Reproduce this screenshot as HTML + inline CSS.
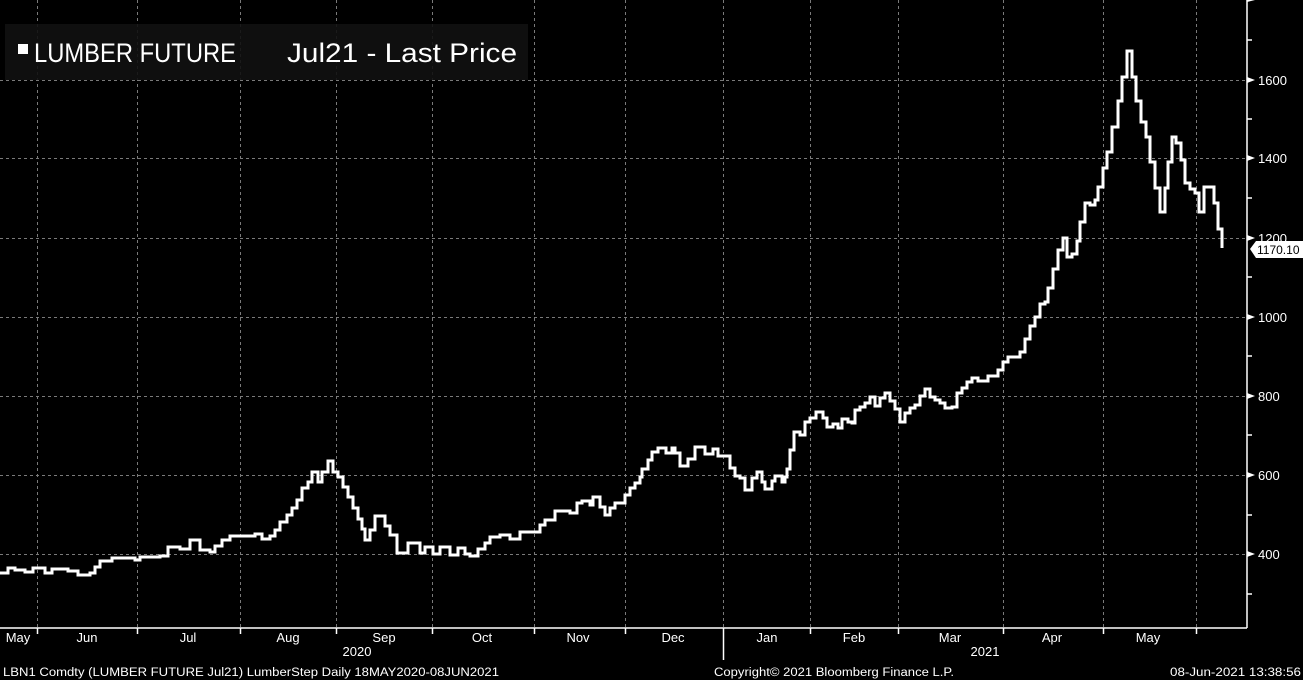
<!DOCTYPE html>
<html><head><meta charset="utf-8"><style>
html,body{margin:0;padding:0;background:#000;width:1303px;height:680px;overflow:hidden}
svg{display:block}
text{font-family:"Liberation Sans",sans-serif;fill:#fff}
</style></head><body>
<svg id="s" width="1303" height="680" viewBox="0 0 1303 680" xmlns="http://www.w3.org/2000/svg">
<g stroke="#7a7a7a" stroke-width="1" stroke-dasharray="3,3" fill="none">
<line x1="0" y1="80.5" x2="1246" y2="80.5"/><line x1="0" y1="158.5" x2="1246" y2="158.5"/>
<line x1="0" y1="238.5" x2="1246" y2="238.5"/><line x1="0" y1="317.5" x2="1246" y2="317.5"/>
<line x1="0" y1="396.5" x2="1246" y2="396.5"/><line x1="0" y1="475.5" x2="1246" y2="475.5"/>
<line x1="0" y1="554.5" x2="1246" y2="554.5"/>
<line x1="37.5" y1="0" x2="37.5" y2="628"/><line x1="137.5" y1="0" x2="137.5" y2="628"/>
<line x1="240.5" y1="0" x2="240.5" y2="628"/><line x1="336.5" y1="0" x2="336.5" y2="628"/>
<line x1="432.5" y1="0" x2="432.5" y2="628"/><line x1="534.5" y1="0" x2="534.5" y2="628"/>
<line x1="625.5" y1="0" x2="625.5" y2="628"/><line x1="723.5" y1="0" x2="723.5" y2="628"/>
<line x1="810.5" y1="0" x2="810.5" y2="628"/><line x1="898.5" y1="0" x2="898.5" y2="628"/>
<line x1="1003.5" y1="0" x2="1003.5" y2="628"/><line x1="1103.5" y1="0" x2="1103.5" y2="628"/>
<line x1="1196.5" y1="0" x2="1196.5" y2="628"/>
</g>
<rect x="5" y="24" width="523" height="56" fill="#111" fill-opacity="0.9"/>
<rect x="18" y="44" width="10" height="10" fill="#fff"/>
<text x="34" y="62" font-size="27" textLength="202" lengthAdjust="spacingAndGlyphs">LUMBER FUTURE</text>
<text x="287" y="62" font-size="27" textLength="230" lengthAdjust="spacingAndGlyphs">Jul21 - Last Price</text>
<path id="ln" d="" stroke="#fff" stroke-width="3" fill="none" stroke-linejoin="miter"/>
<g stroke="#fff" stroke-width="1.5">
<line x1="1247" y1="0" x2="1247" y2="628"/>
<line x1="0" y1="628" x2="1247" y2="628"/>
<line x1="37.5" y1="628" x2="37.5" y2="634"/><line x1="137.5" y1="628" x2="137.5" y2="634"/>
<line x1="240.5" y1="628" x2="240.5" y2="634"/><line x1="336.5" y1="628" x2="336.5" y2="634"/>
<line x1="432.5" y1="628" x2="432.5" y2="634"/><line x1="534.5" y1="628" x2="534.5" y2="634"/>
<line x1="625.5" y1="628" x2="625.5" y2="634"/><line x1="723.5" y1="628" x2="723.5" y2="660"/>
<line x1="810.5" y1="628" x2="810.5" y2="634"/><line x1="898.5" y1="628" x2="898.5" y2="634"/>
<line x1="1003.5" y1="628" x2="1003.5" y2="634"/><line x1="1103.5" y1="628" x2="1103.5" y2="634"/>
<line x1="1196.5" y1="628" x2="1196.5" y2="634"/>
<line x1="1247" y1="40" x2="1252" y2="40"/><line x1="1247" y1="119" x2="1252" y2="119"/>
<line x1="1247" y1="198" x2="1252" y2="198"/><line x1="1247" y1="277" x2="1252" y2="277"/>
<line x1="1247" y1="356" x2="1252" y2="356"/><line x1="1247" y1="435" x2="1252" y2="435"/>
<line x1="1247" y1="515" x2="1252" y2="515"/><line x1="1247" y1="594" x2="1252" y2="594"/>
</g>
<g fill="#fff">
<polygon points="1247,77 1255,80 1247,83"/><polygon points="1247,155 1255,158 1247,161"/>
<polygon points="1247,235 1255,238 1247,241"/><polygon points="1247,314 1255,317 1247,320"/>
<polygon points="1247,393 1255,396 1247,399"/><polygon points="1247,472 1255,475 1247,478"/>
<polygon points="1247,551 1255,554 1247,557"/>
<polygon points="1247,2 1255,0 1247,0"/>
</g>
<g font-size="13">
<text x="1258" y="85">1600</text><text x="1258" y="163">1400</text>
<text x="1258" y="243">1200</text><text x="1258" y="322">1000</text>
<text x="1258" y="401">800</text><text x="1258" y="480">600</text>
<text x="1258" y="559">400</text>
</g>
<polygon points="1250,249 1256,241 1303,241 1303,258 1256,258" fill="#fff"/>
<text x="1257" y="254" font-size="12" style="fill:#000">1170.10</text>
<g font-size="13" text-anchor="middle">
<text x="18" y="642">May</text><text x="87" y="642">Jun</text><text x="188" y="642">Jul</text>
<text x="288" y="642">Aug</text><text x="384" y="642">Sep</text><text x="482" y="642">Oct</text>
<text x="578" y="642">Nov</text><text x="673" y="642">Dec</text><text x="767" y="642">Jan</text>
<text x="854" y="642">Feb</text><text x="950" y="642">Mar</text><text x="1052" y="642">Apr</text>
<text x="1148" y="642">May</text>
<text x="357" y="656">2020</text><text x="985" y="656">2021</text>
</g>
<g font-size="11.5">
<text x="3" y="676" textLength="496" lengthAdjust="spacingAndGlyphs">LBN1 Comdty (LUMBER FUTURE      Jul21) LumberStep  Daily 18MAY2020-08JUN2021</text>
<text x="714" y="676" textLength="240" lengthAdjust="spacingAndGlyphs">Copyright© 2021 Bloomberg Finance L.P.</text>
<text x="1170" y="676" textLength="131" lengthAdjust="spacingAndGlyphs">08-Jun-2021 13:38:56</text>
</g>
</svg>
<script>
var A=[[0,573],[8,568],[15,570],[25,572],[33,568],[45,573],[52,569],[68,571],[78,575],[90,573],[95,567],[100,561],[112,558],[135,560],[140,557],[160,556],[168,547],[180,549],[190,540],[200,550],[210,552],[215,546],[222,540],[230,536],[255,534],[262,539],[270,536],[275,530],[280,522],[287,515],[292,508],[297,500],[302,488],[308,482],[312,472],[318,482],[322,472],[328,461],[333,472],[338,477],[343,487],[348,497],[353,508],[358,519],[362,529],[365,540],[370,530],[375,516],[385,526],[390,535],[397,553],[408,543],[420,553],[425,547],[433,554],[440,547],[450,555],[458,548],[465,554],[470,556],[478,549],[485,543],[490,537],[500,535],[510,539]];
var B=[[520,532],[540,525],[545,520],[555,511],[570,513],[577,503],[582,501],[590,505],[593,497],[600,507],[605,515],[610,508],[615,503],[625,495],[630,488],[635,483],[640,477],[642,469],[648,460],[652,452],[658,448],[666,453],[672,448],[675,453],[680,466],[688,459],[695,447],[705,454],[713,449],[718,456],[730,468],[735,476],[740,478],[745,490],[752,478],[757,472],[762,482],[765,489],[772,481],[775,476],[782,482],[785,477],[787,469],[790,450],[794,432],[800,435],[805,422],[810,418],[816,412],[823,418],[827,427],[833,424],[838,428],[842,419],[848,422],[852,423],[855,410],[860,407],[865,403],[870,397],[875,406],[880,398],[885,393],[890,401],[895,409],[900,422],[905,413],[910,408],[915,405],[920,396],[925,389],[930,397],[935,400],[940,403],[945,408],[952,407],[957,393],[962,388],[967,382],[972,378],[978,381],[988,376]];
var C=[[998,370],[1003,362],[1008,357],[1020,352],[1025,339],[1030,326],[1035,317],[1040,304],[1045,302],[1048,288],[1053,269],[1058,250],[1063,238],[1067,257],[1072,254],[1077,241],[1080,222],[1085,203],[1090,205],[1095,200],[1098,187],[1103,168],[1107,152],[1112,127],[1118,101],[1122,77],[1127,51],[1132,77],[1136,101],[1141,122],[1146,137],[1150,162],[1155,188],[1160,212],[1165,188],[1168,162],[1172,137],[1176,143],[1181,160],[1185,183],[1190,189],[1195,193],[1199,212],[1204,187],[1214,203],[1218,229]];
var P=A.concat(B,C);
var d="M"+P[0][0]+" "+P[0][1];
for(var i=1;i<P.length;i++){d+=" H"+P[i][0].toFixed(1)+" V"+P[i][1];}
d+=" H1222 V248";
document.getElementById("ln").setAttribute("d",d);
</script>
</body></html>
